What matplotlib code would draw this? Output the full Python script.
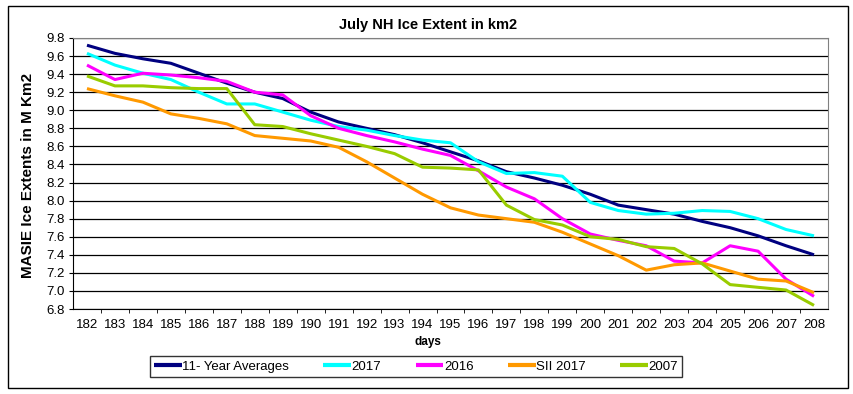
import matplotlib
matplotlib.use('Agg')
import matplotlib.pyplot as plt
from matplotlib.patches import Rectangle

plt.rcParams['font.family'] = ['Liberation Sans', 'DejaVu Sans']

days = list(range(182, 209))

avg_11yr = [9.72, 9.63, 9.57, 9.52, 9.41, 9.30, 9.20, 9.13, 8.98, 8.87, 8.80, 8.73, 8.64,
            8.54, 8.44, 8.32, 8.25, 8.17, 8.07, 7.95, 7.90, 7.85, 7.77, 7.70, 7.61, 7.50, 7.40]
y2017 = [9.63, 9.50, 9.41, 9.34, 9.20, 9.07, 9.07, 8.98, 8.89, 8.82, 8.78, 8.72, 8.67,
         8.64, 8.43, 8.30, 8.31, 8.27, 7.98, 7.89, 7.85, 7.86, 7.89, 7.88, 7.80, 7.68, 7.61]
y2016 = [9.50, 9.34, 9.41, 9.39, 9.36, 9.32, 9.20, 9.17, 8.94, 8.80, 8.72, 8.65, 8.57,
         8.50, 8.33, 8.15, 8.02, 7.80, 7.63, 7.56, 7.50, 7.33, 7.31, 7.50, 7.44, 7.13, 6.94]
sii2017 = [9.24, 9.16, 9.09, 8.96, 8.91, 8.85, 8.72, 8.69, 8.66, 8.59, 8.43, 8.25, 8.07,
           7.92, 7.84, 7.80, 7.76, 7.65, 7.52, 7.39, 7.23, 7.29, 7.31, 7.22, 7.13, 7.11, 6.98]
y2007 = [9.38, 9.27, 9.27, 9.25, 9.24, 9.24, 8.84, 8.82, 8.74, 8.67, 8.60, 8.52, 8.37,
         8.36, 8.34, 7.95, 7.79, 7.73, 7.60, 7.57, 7.49, 7.47, 7.30, 7.07, 7.04, 7.01, 6.84]

series = [
    ('11- Year Averages', avg_11yr, '#000080'),
    ('2017', y2017, '#00FFFF'),
    ('2016', y2016, '#FF00FF'),
    ('SII 2017', sii2017, '#FF9900'),
    ('2007', y2007, '#99CC00'),
]

fig = plt.figure(figsize=(8.54, 3.94), dpi=100)
ax = fig.add_axes([73 / 854, 1 - 309 / 394, 755 / 854, 271 / 394])

x = list(range(len(days)))
for name, vals, color in series:
    ax.plot(x, vals, color=color, lw=2.2, label=name, solid_capstyle='butt')

ax.set_xlim(-0.5, len(days) - 0.5)
ax.set_ylim(6.8, 9.8)
ax.set_yticks([6.8 + 0.2 * i for i in range(16)])
ax.set_yticklabels([f'{6.8 + 0.2 * i:.1f}' for i in range(16)], fontsize=9.5)
ax.set_xticks(x)
ax.set_xticklabels([str(d) for d in days], fontsize=9.5)
ax.set_xticks([i + 0.5 for i in range(len(days) - 1)], minor=True)
ax.tick_params(axis='x', which='major', length=0, pad=7)
ax.tick_params(axis='x', which='minor', length=3, direction='out', color='black')
ax.tick_params(axis='y', length=3, direction='out', pad=3)
ax.grid(axis='y', color='black', lw=0.9)
ax.set_axisbelow(True)

for side in ['top', 'right']:
    ax.spines[side].set_color('#808080')
for side in ['left', 'bottom']:
    ax.spines[side].set_color('black')

fig.text(428 / 854, 1 - 25 / 394, 'July NH Ice Extent in km2', ha='center', va='center',
         fontsize=10.5, fontweight='bold')
fig.text(28 / 854, 1 - 175 / 394, 'MASIE Ice Extents in M Km2', ha='center', va='center',
         rotation=90, fontsize=11, fontweight='bold')
fig.text(428 / 854, 1 - 342 / 394, 'days', ha='center', va='center', fontsize=8.5,
         fontweight='bold')

leg = fig.legend(loc='center', bbox_to_anchor=(416 / 854, 1 - 366.5 / 394), ncol=5,
                 fontsize=9.5, handlelength=2.1, handletextpad=0.05, columnspacing=2.6,
                 frameon=True, fancybox=False, borderpad=0.3)
leg.get_frame().set_edgecolor('black')
leg.get_frame().set_linewidth(1.0)
for line in leg.get_lines():
    line.set_linewidth(3.0)

fig.patches.append(Rectangle((8 / 854, 1 - 388 / 394), 840 / 854, 382 / 394,
                             transform=fig.transFigure, fill=False, edgecolor='black',
                             lw=1.0))

fig.savefig('out.png', dpi=100)
